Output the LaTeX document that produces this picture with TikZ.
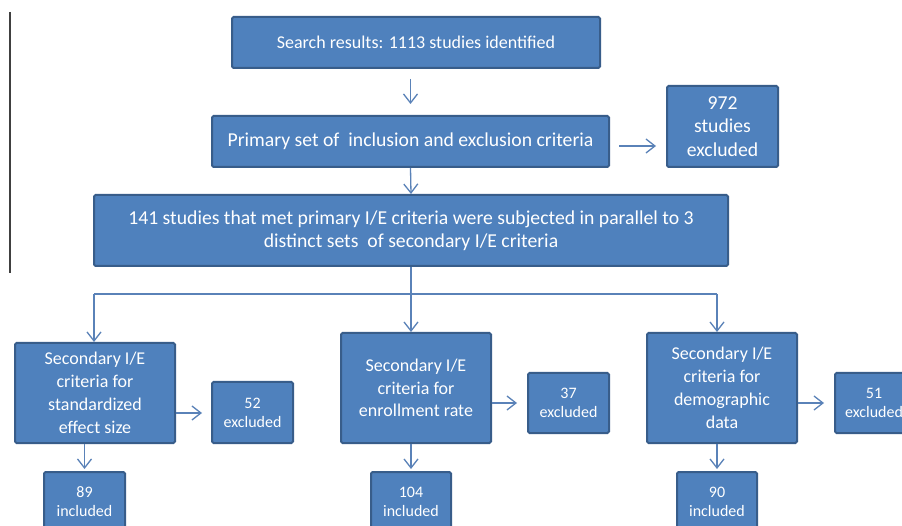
\documentclass[tikz,border=0pt]{standalone}
\usepackage{fontspec}
\setmainfont{Carlito}
\usetikzlibrary{arrows.meta}
\definecolor{boxfill}{HTML}{4F81BD}
\definecolor{boxline}{HTML}{385D8A}
\definecolor{arrowc}{HTML}{5A82B8}
\begin{document}
\begin{tikzpicture}[x=1pt,y=-1pt,
  box/.style={draw=boxline, line width=2pt, fill=boxfill, rounded corners=1.5pt,
    text=white, font=\fontsize{18}{22.8}\selectfont, align=center, inner sep=2pt},
  large/.style={font=\fontsize{19.7}{23.3}\selectfont},
  small/.style={font=\fontsize{16}{19}\selectfont},
  conn/.style={draw=arrowc, line width=1.3pt},
  arr/.style={conn, -{Straight Barb[length=9pt,width=14pt,line width=1.3pt]}}
]
\useasboundingbox (0,0) rectangle (902,526);
\clip (0,0) rectangle (902,526);
\fill[white] (0,0) rectangle (902,526);
\draw[line width=1.5pt, black!75] (10,12) -- (10,273);

\node[box, minimum width=368pt, minimum height=51pt] (b1) at (416,42.5) {Search results: 1113 studies identified};
\node[box, large, minimum width=397pt, minimum height=51pt] (b2) at (410.5,141.5) {Primary set of \ inclusion and exclusion criteria};
\node[box, large, minimum width=111pt, minimum height=81pt] (ex1) at (722.5,126.5) {972\\studies\\excluded};
\node[box, large, minimum width=634pt, minimum height=71pt] (b3) at (411,230.5) {141 studies that met primary I/E criteria were subjected in parallel to 3\\distinct sets \ of secondary I/E criteria};

\node[box, minimum width=160pt, minimum height=100pt] (b4) at (95,393) {Secondary I/E\\criteria for\\standardized\\effect size};
\node[box, small, minimum width=81pt, minimum height=61pt] (ex2) at (252.5,412.5) {52\\excluded};
\node[box, small, minimum width=81pt, minimum height=60pt] (in1) at (84.5,502) {89\\included};

\node[box, minimum width=150pt, minimum height=110pt] (b5) at (416,388) {Secondary I/E\\criteria for\\enrollment rate};
\node[box, small, minimum width=81pt, minimum height=60pt] (ex3) at (568.5,403) {37\\excluded};
\node[box, small, minimum width=80pt, minimum height=60pt] (in2) at (411,502) {104\\included};

\node[box, minimum width=150pt, minimum height=110pt] (b6) at (722,388) {Secondary I/E\\criteria for\\demographic\\data};
\node[box, small, minimum width=78pt, minimum height=60pt] (ex4) at (874,403) {51\\excluded};
\node[box, small, minimum width=80pt, minimum height=60pt] (in3) at (717,502) {90\\included};

\coordinate (j1) at (94,294);
\coordinate (j2) at (411,294);
\coordinate (j3) at (717,294);

\draw[arr, shorten <=10pt, shorten >=11pt] (b1.south -| b2) -- (b2.north);
\draw[arr] (b2.south) -- (b3.north);
\draw[arr, shorten <=9pt, shorten >=10pt] ([yshift=-4.5pt]b2.east) -- ([yshift=-4.5pt]b2.east -| ex1.west);

\draw[conn] (b3.south) -- (j2);
\draw[conn] (j1) -- (j3);
\draw[arr] (j1) -- (j1 |- b4.north);
\draw[arr] (j2) -- (j2 |- b5.north);
\draw[arr] (j3) -- (j3 |- b6.north);

\draw[arr, shorten >=9pt] ([yshift=-20pt]b4.east) -- ([yshift=-20pt]b4.east -| ex2.west);
\draw[arr, shorten >=10pt] ([yshift=-15pt]b5.east) -- ([yshift=-15pt]b5.east -| ex3.west);
\draw[arr, shorten >=10pt] ([yshift=-15pt]b6.east) -- ([yshift=-15pt]b6.east -| ex4.west);

\draw[arr, shorten >=2pt] (b4.south -| in1) -- (in1.north);
\draw[arr, shorten >=2pt] (b5.south -| in2) -- (in2.north);
\draw[arr, shorten >=2pt] (b6.south -| in3) -- (in3.north);
\end{tikzpicture}
\end{document}
